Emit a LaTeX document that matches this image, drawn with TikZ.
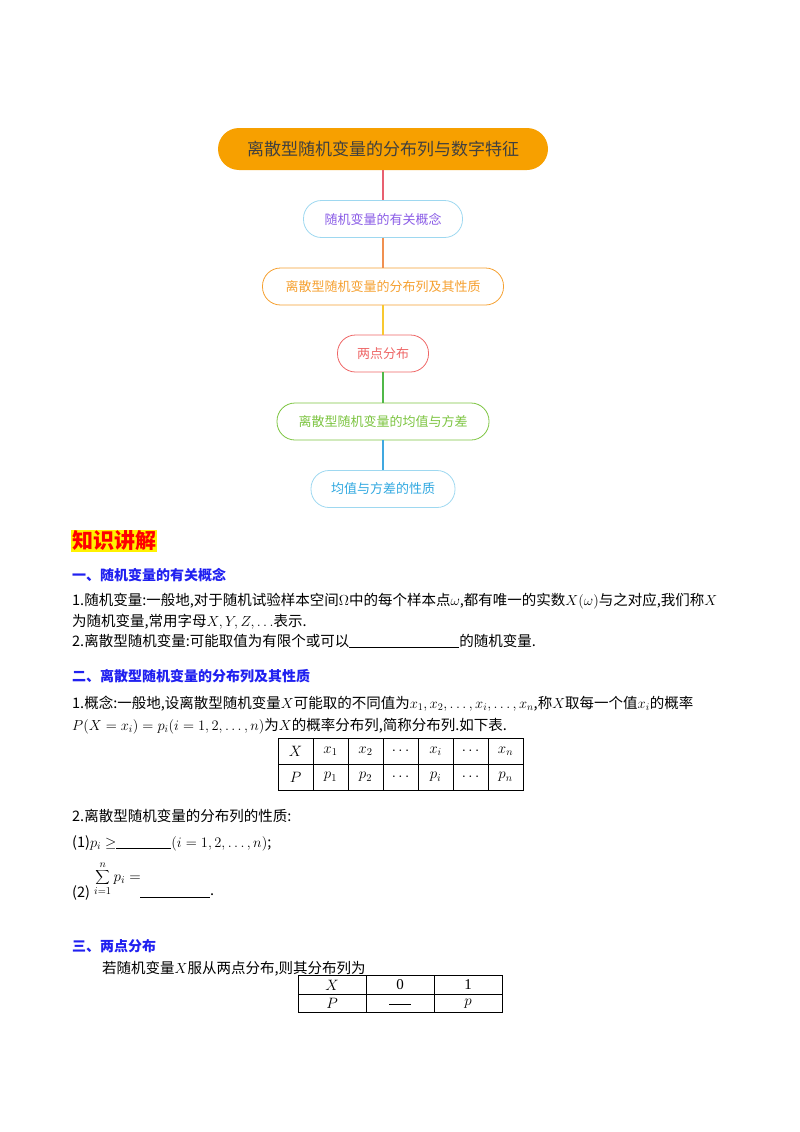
\RequirePackage{fix-cm}
\documentclass[tikz,border=0pt]{standalone}
\usepackage{fontspec}
\setmainfont{Liberation Serif}
\newfontfamily\cjk{Noto Sans CJK SC}
\usetikzlibrary{positioning}
\definecolor{org}{HTML}{F7A000}
\definecolor{lblue}{HTML}{9ED8F0}
\definecolor{purp}{HTML}{8A5CE6}
\definecolor{orgt}{HTML}{F5A030}
\definecolor{redt}{HTML}{EE6666}
\definecolor{grnt}{HTML}{7CC440}
\definecolor{blut}{HTML}{30A8E0}
\definecolor{hblue}{HTML}{2020F0}
\definecolor{c1}{HTML}{E86070}
\definecolor{c2}{HTML}{F09050}
\definecolor{c3}{HTML}{F8C830}
\definecolor{c4}{HTML}{50B848}
\definecolor{c5}{HTML}{40A8E0}
\begin{document}
\begin{tikzpicture}[x=1pt,y=-1pt,
  mm/.style={rounded corners=18pt,line width=0.8pt,minimum height=37pt,font=\cjk\fontsize{13}{15}\selectfont,inner xsep=14pt},
  tx/.style={anchor=west,inner sep=0pt,font=\cjk\fontsize{14.5}{16}\selectfont},
  hd/.style={anchor=west,inner sep=0pt,text=hblue,font=\cjk\bfseries\fontsize{14}{16}\selectfont},
  con/.style={line width=1.2pt},
  cell/.style={draw,line width=0.8pt,minimum height=26pt,inner sep=0pt,font=\fontsize{15}{17}\selectfont}]
\useasboundingbox (0,0) rectangle (800,1132);
\node[mm,fill=org,minimum width=330pt,minimum height=42pt,rounded corners=21pt,font=\cjk\fontsize{17}{19}\selectfont,text=black!75] (t) at (383,149) {离散型随机变量的分布列与数字特征};
\node[mm,draw=lblue,text=purp,minimum width=159pt] (a) at (383,219) {随机变量的有关概念};
\node[mm,draw=orgt,text=orgt,minimum width=241pt] (b) at (383,286.5) {离散型随机变量的分布列及其性质};
\node[mm,draw=redt,text=redt,minimum width=91pt] (c) at (383,353.5) {两点分布};
\node[mm,draw=grnt,text=grnt,minimum width=212pt] (d) at (383,421.5) {离散型随机变量的均值与方差};
\node[mm,draw=lblue,text=blut,minimum width=144pt] (e) at (383,489) {均值与方差的性质};
\draw[con,c1] (t) -- (a);
\draw[con,c2] (a) -- (b);
\draw[con,c3] (b) -- (c);
\draw[con,c4] (c) -- (d);
\draw[con,c5] (d) -- (e);

\node[anchor=west,fill=yellow,text=red,inner sep=1pt,font=\cjk\bfseries\fontsize{21}{23}\selectfont] (k) at (71,541) {知识讲解};
\node[hd] (h1) at (72,575) {一、随机变量的有关概念};
\node[tx] (l1) at (72,601) {1.随机变量:一般地,对于随机试验样本空间$\Omega$中的每个样本点$\omega$,都有唯一的实数$X(\omega)$与之对应,我们称$X$};
\node[tx] (l2) at (72,622) {为随机变量,常用字母$X,Y,Z,\dots$表示.};
\node[tx] (l3) at (72,641) {2.离散型随机变量:可能取值为有限个或可以\underline{\hspace{110pt}}的随机变量.};
\node[hd] (h2) at (72,676) {二、离散型随机变量的分布列及其性质};
\node[tx] (l4) at (72,704) {1.概念:一般地,设离散型随机变量$X$可能取的不同值为$x_1,x_2,\dots,x_i,\dots,x_n$,称$X$取每一个值$x_i$的概率};
\node[tx] (l5) at (72,726) {$P(X=x_i)=p_i(i=1,2,\dots,n)$为$X$的概率分布列,简称分布列.如下表.};
\foreach \v [count=\i] in {$X$,$x_1$,$x_2$,$\cdots$,$x_i$,$\cdots$,$x_n$}
  \node[cell,minimum width=35pt] (r1c\i) at (278+35*\i-17.5,751) {\v};
\foreach \v [count=\i] in {$P$,$p_1$,$p_2$,$\cdots$,$p_i$,$\cdots$,$p_n$}
  \node[cell,minimum width=35pt] (r2c\i) at (278+35*\i-17.5,777) {\v};
\node[tx] (l6) at (72,816) {2.离散型随机变量的分布列的性质:};
\node[tx] (l7) at (72,843) {(1)$p_i\geq$\underline{\hspace{55pt}}$(i=1,2,\dots,n)$;};
\node[tx] (l8) at (72,893) {(2)};
\node[anchor=west,inner sep=0pt,font=\fontsize{15}{17}\selectfont] (l8b) at (94,879) {$\displaystyle\sum_{i=1}^{n}p_i=$};
\node[tx] (l9) at (140,896) {\underline{\hspace{70pt}}.};
\node[hd] (h3) at (72,946) {三、两点分布};
\node[tx] (l10) at (102,969) {若随机变量$X$服从两点分布,则其分布列为};
\foreach \v [count=\i] in {$X$,0,1}
  \node[cell,minimum width=68pt,minimum height=18.5pt] (s1c\i) at (298+68*\i-34,985) {\v};
\foreach \v [count=\i] in {$P$,\underline{\hspace{22pt}},$p$}
  \node[cell,minimum width=68pt,minimum height=18.5pt] (s2c\i) at (298+68*\i-34,1003.5) {\v};
\end{tikzpicture}
\end{document}
